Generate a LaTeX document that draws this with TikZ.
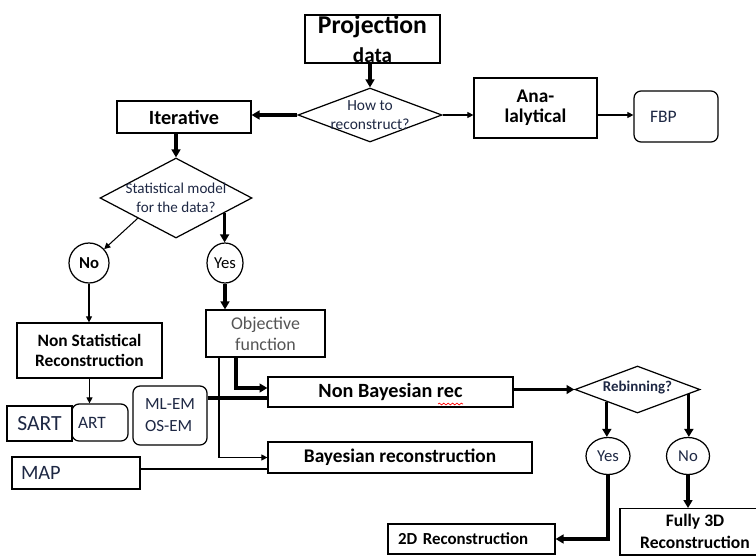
\documentclass[tikz,border=0pt]{standalone}
\usepackage{fontspec}
\setmainfont{Carlito}
\usetikzlibrary{shapes.geometric}
\usetikzlibrary{arrows.meta}
\usetikzlibrary{decorations.pathmorphing}
\definecolor{qtext}{RGB}{30,40,68}
\definecolor{objgray}{RGB}{85,85,85}
\tikzstyle{box}=[draw, line width=0.7pt, inner sep=0pt, align=center]
\tikzstyle{rbox}=[box, rounded corners=4pt]
\tikzstyle{question}=[draw, diamond, line width=0.7pt, inner sep=0pt]
\tikzstyle{answer}=[draw, ellipse, line width=0.7pt, inner sep=0pt]
\tikzstyle{flowline}=[line width=0.6pt]
\tikzstyle{flow}=[flowline, -{Triangle[length=3.5pt,width=3.5pt]}]
\tikzstyle{mainline}=[line width=1.8pt]
\tikzstyle{mainflow}=[mainline, -{Triangle[length=4.5pt,width=5pt]}]

\begin{document}
\begin{tikzpicture}[x=0.02cm, y=-0.02cm]
        \useasboundingbox (0,0) rectangle (756,555);
        \fill[white] (0,0) rectangle (756,555);
        \clip (0,0) rectangle (756,555);
        % top of the chart
        \node[box, minimum width=2.7cm, minimum height=0.96cm, font=\fontsize{14.6}{17}\selectfont\bfseries] (proj) at (372.5,39) {Projection\\{\fontsize{12}{17}\selectfont data}};
        \node[question, minimum width=2.88cm, minimum height=1.08cm, label={[font=\fontsize{8.8}{10.8}\selectfont, text=qtext, align=center]center:How to\\reconstruct?}] (how) at (370,115) {};
        \node[box, minimum width=2.46cm, minimum height=1.2cm, font=\fontsize{11}{11.5}\selectfont\bfseries] (ana) at (535.5,108) {Ana-\\lalytical};
        \node[rbox, minimum width=1.68cm, minimum height=1.02cm, text width=1.04cm, inner xsep=0.32cm, align=left, text=qtext, font=\fontsize{10}{12}\selectfont] (fbp) at (676,116.5) {FBP};
        \node[box, minimum width=2.68cm, minimum height=0.64cm, font=\fontsize{11.5}{14}\selectfont\bfseries] (iter) at (184,117) {Iterative};
        \node[question, minimum width=3.04cm, minimum height=1.6cm, label={[font=\fontsize{8.6}{10.8}\selectfont, text=qtext, align=center]center:Statistical model\\for the data?}] (stat) at (176,198) {};
        \node[answer, minimum width=0.8cm, minimum height=0.8cm, font=\fontsize{9.5}{11}\selectfont\bfseries] (no1) at (89,263) {No};
        \node[answer, minimum width=0.72cm, minimum height=0.8cm, font=\fontsize{9.5}{11}\selectfont] (yes1) at (225,263) {Yes};
        % middle
        \node[box, minimum width=2.9cm, minimum height=1.1cm, font=\fontsize{9.9}{11.3}\selectfont\bfseries] (nonstat) at (89.5,350.5) {Non Statistical\\Reconstruction};
        \node[box, minimum width=2.38cm, minimum height=0.94cm, text=objgray, font=\fontsize{10.2}{12}\selectfont] (obj) at (265.5,333.5) {Objective\\function};
        \node[box, minimum width=1.3cm, minimum height=0.7cm, text=qtext, font=\fontsize{12.3}{14}\selectfont] (sart) at (39.5,423.5) {SART};
        \node[rbox, minimum width=1.12cm, minimum height=0.74cm, text width=0.88cm, inner xsep=0.12cm, align=left, text=qtext, font=\fontsize{9.9}{12}\selectfont] (art) at (100,422.5) {ART};
        \node[rbox, minimum width=1.48cm, minimum height=1.18cm, align=left, text=qtext, font=\fontsize{9.7}{12.5}\selectfont] (mlem) at (170,415.5) {ML-EM\\OS-EM};
        \node[box, minimum width=4.9cm, minimum height=0.6cm, font=\fontsize{11.5}{14}\selectfont\bfseries] (nbay) at (390.5,392) {Non Bayesian rec};
        \node[box, minimum width=5.28cm, minimum height=0.62cm, font=\fontsize{11}{14}\selectfont\bfseries] (bay) at (400,457.5) {Bayesian reconstruction};
        \node[box, minimum width=2.56cm, minimum height=0.64cm, text width=2.2cm, inner xsep=0.18cm, align=left, text=qtext, font=\fontsize{11.6}{14}\selectfont] (map) at (76,473) {MAP};
        % right side
        \node[question, minimum width=2.5cm, minimum height=0.94cm, label={[font=\fontsize{8.5}{10}\selectfont\bfseries, text=qtext, yshift=0.04cm]center:Rebinning?}] (reb) at (637.5,389.5) {};
        \node[answer, minimum width=0.88cm, minimum height=0.74cm, text=qtext, font=\fontsize{9.5}{11}\selectfont] (yes2) at (608,456) {Yes};
        \node[answer, minimum width=0.86cm, minimum height=0.74cm, text=qtext, font=\fontsize{9.5}{11}\selectfont] (no2) at (688,456) {No};
        \node[box, minimum width=3.34cm, minimum height=0.6cm, text width=2.94cm, inner xsep=0.2cm, align=left, font=\fontsize{9.6}{12}\selectfont\bfseries] (twod) at (471.5,539) {2D Reconstruction};
        \node[box, anchor=north, minimum width=3.0cm, inner ysep=0.12cm, font=\fontsize{10}{12.5}\selectfont\bfseries] (full) at (695,508) {Fully 3D\\Reconstruction};
        \draw[red, line width=0.4pt, decorate, decoration={snake, amplitude=0.5pt, segment length=2.5pt}] (438,404) -- (463,404);
        % connectors
        \draw[mainflow] (how.north |- proj.south) -- (how.north);
        \draw[flow] (how.east) -- (how.east -| ana.west);
        \draw[flow] (how.east -| ana.east) -- (how.east -| fbp.west);
        \draw[mainflow] (how.west) -- (how.west -| iter.east);
        \draw[mainflow] (stat.north |- iter.south) -- (stat.north);
        \draw[flow] (stat.south west) -- (no1);
        \draw[mainflow] (stat.-17) -- (stat.-17 |- yes1.north);
        \draw[flow] (no1.south) -- (no1.south |- nonstat.north);
        \draw[mainflow] (yes1.south) -- (yes1.south |- obj.north);
        \draw[flow] (nonstat.south) -- (nonstat.south |- art.north);
        \draw[mainflow] (obj.south -| 236,0) |- (nbay.west |- 0,388);
        \draw[mainline] (mlem.east |- 0,398) -- (nbay.west |- 0,398);
        \draw[flow] (obj.south -| 219,0) |- (bay.west);
        \draw[flowline] (map.east |- 0,469) -- (bay.west |- 0,469);
        \draw[mainflow] (nbay.east |- reb.west) -- (reb.west);
        \draw[mainflow] (reb.202) -- (reb.202 |- yes2.north);
        \draw[mainflow] (reb.-5) -- (reb.-5 |- no2.north);
        \draw[mainflow] (yes2.south) |- (twod.east);
        \draw[mainflow] (no2.south) -- (no2.south |- full.north);
    \end{tikzpicture}
\end{document}
